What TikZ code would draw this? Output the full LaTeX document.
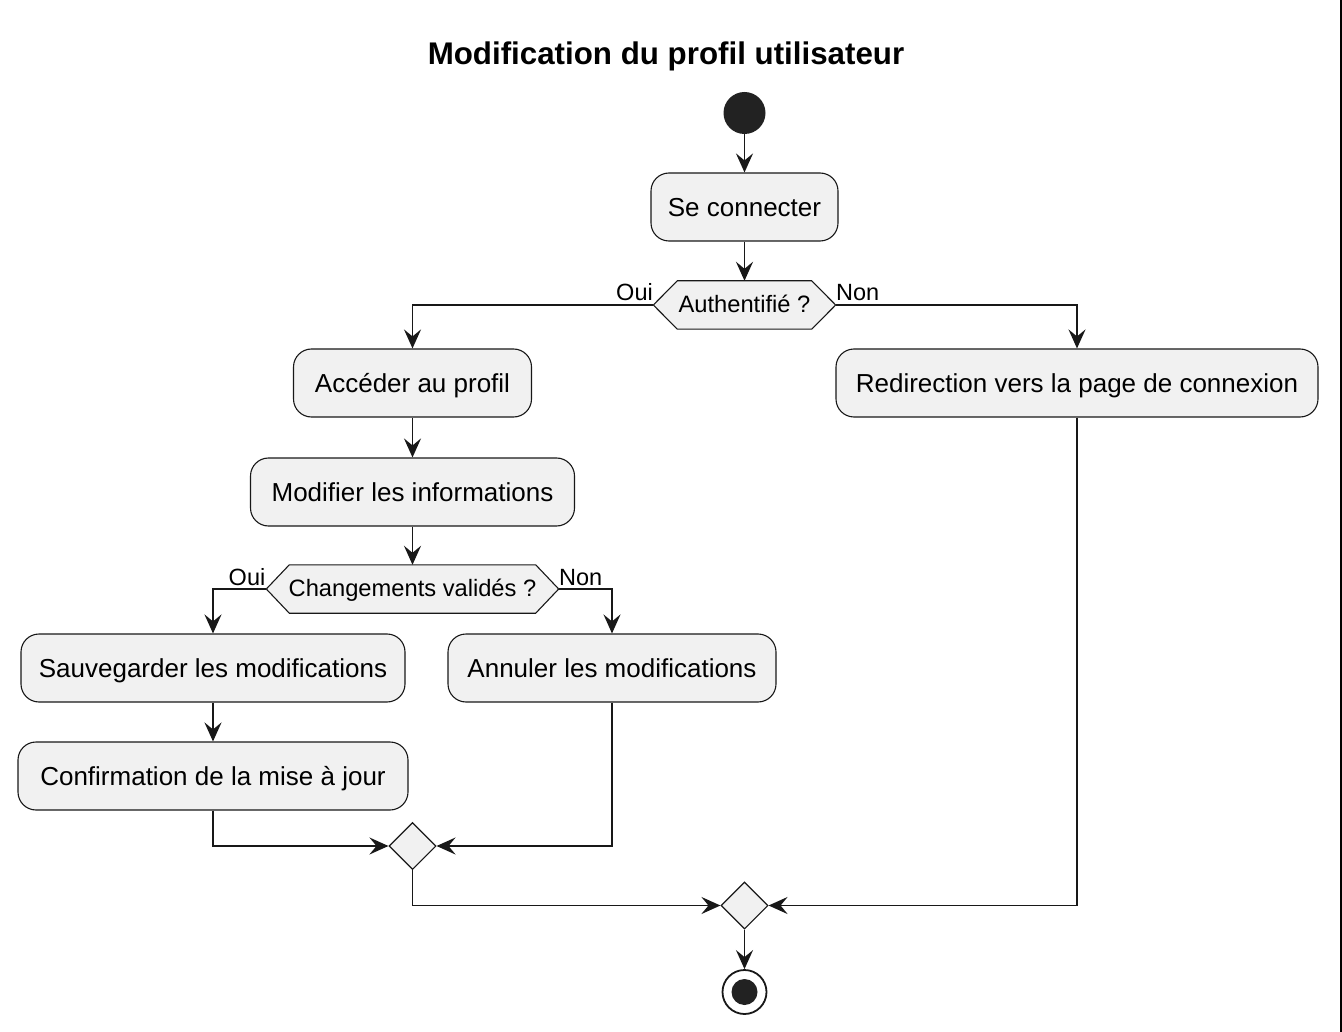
\documentclass[tikz,border=0pt]{standalone}
\usepackage{fontspec}
\setmainfont{Liberation Sans}
\usetikzlibrary{arrows.meta,shapes.geometric,backgrounds,calc}
\definecolor{boxfill}{HTML}{F1F1F1}
\definecolor{ink}{HTML}{181818}
\definecolor{startc}{HTML}{222222}
\newcommand\drawhexa[2]{%
  \begin{scope}[on background layer]
  \draw[draw=ink, line width=1.1pt, fill=boxfill] (#1.west) -- ([xshift=#2]#1.north west) -- ([xshift=-#2]#1.north east) -- (#1.east) -- ([xshift=-#2]#1.south east) -- ([xshift=#2]#1.south west) -- cycle;
  \end{scope}}
\begin{document}
\begin{tikzpicture}[x=1pt,y=-1pt,
  box/.style={draw=ink, line width=1.1pt, fill=boxfill, rounded corners=18pt, minimum height=68pt, inner sep=0pt, text height=24pt, text depth=5pt, font=\fontsize{26}{31}\selectfont},
  hexnode/.style={minimum height=48pt, inner sep=0pt, text height=20.5pt, text depth=5pt, font=\fontsize{23.7}{28}\selectfont},
  merge/.style={diamond, draw=ink, line width=1.1pt, fill=boxfill, minimum width=47pt, minimum height=47pt, inner sep=0pt, aspect=1},
  lbl/.style={inner sep=0pt, font=\fontsize{23.5}{28}\selectfont},
  flow/.style={draw=ink, line width=1.9pt, -{Stealth[length=19pt,width=17pt,inset=7pt]}}
]
\useasboundingbox (0,0) rectangle (1342,1032);
\fill[black] (1339.5,0) rectangle (1342,1032);

\node[font=\bfseries\fontsize{31.3}{37}\selectfont, inner sep=0pt, anchor=base] (title) at (666,65) {Modification du profil utilisateur};

\node[circle, fill=startc, minimum size=42pt, inner sep=0pt] (start) at (744.5,113) {};
\node[box, minimum width=187pt] (connect) at (744.5,207) {Se connecter};
\node[hexnode, minimum width=182pt] (auth) at (744.5,305) {Authentifié ?};
\drawhexa{auth}{24pt}
\node[box, minimum width=238pt] (acces) at (412.5,383) {Accéder au profil};
\node[box, minimum width=482pt] (redir) at (1077,383) {Redirection vers la page de connexion};
\node[box, minimum width=324pt] (modif) at (412.5,492) {Modifier les informations};
\node[hexnode, minimum width=292pt] (valid) at (412.5,589) {Changements validés ?};
\drawhexa{valid}{23pt}
\node[box, minimum width=384pt] (save) at (213,668) {Sauvegarder les modifications};
\node[box, minimum width=328pt] (cancel) at (612,668) {Annuler les modifications};
\node[box, minimum width=390pt] (confirm) at (213,776) {Confirmation de la mise à jour};
\node[merge] (m1) at (412.5,846) {};
\node[merge] (m2) at (744.5,905.5) {};
\node[circle, draw=ink, line width=1.8pt, fill=white, minimum size=44pt, inner sep=0pt] (end) at (744.5,992) {};
\node[circle, fill=startc, minimum size=26pt, inner sep=0pt] (endcore) at (end.center) {};

\node[lbl, anchor=base east] (oui1) at (653,301) {Oui};
\node[lbl, anchor=base west] (non1) at (836,301) {Non};
\node[lbl, anchor=base east] (oui2) at (265.5,585) {Oui};
\node[lbl, anchor=base west] (non2) at (559,585) {Non};

\draw[flow] (start) -- (connect);
\draw[flow] (connect) -- (auth);
\draw[flow] (auth.west) -| (acces.north);
\draw[flow] (auth.east) -| (redir.north);
\draw[flow] (acces) -- (modif);
\draw[flow] (modif) -- (valid);
\draw[flow] (valid.west) -| (save.north);
\draw[flow] (valid.east) -| (cancel.north);
\draw[flow] (save) -- (confirm);
\draw[flow] (confirm.south) |- (m1.west);
\draw[flow] (cancel.south) |- (m1.east);
\draw[flow] (m1.south) |- (m2.west);
\draw[flow] (redir.south) |- (m2.east);
\draw[flow] (m2) -- (end);
\end{tikzpicture}
\end{document}
